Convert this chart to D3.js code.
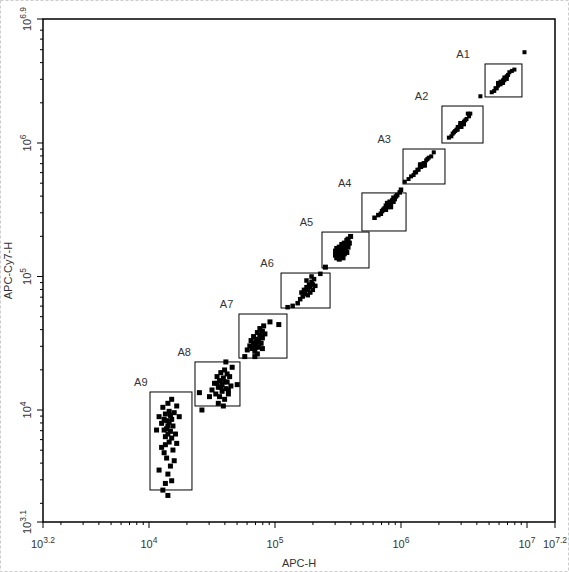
<!DOCTYPE html>
<html><head><meta charset="utf-8">
<script src="https://cdn.jsdelivr.net/npm/d3@7"></script>
<style>body{margin:0;background:#fff}svg{display:block}</style>
</head><body>
<svg id="c" width="569" height="572"></svg>
<script>
const gateNames = ["A1","A2","A3","A4","A5","A6","A7","A8","A9"];
// gates in log10 units: [x0, x1, y0, y1]
const gates = [
 [6.667,6.960,6.345,6.592],[6.325,6.651,6.000,6.277],[6.016,6.349,5.693,5.955],
 [5.690,6.040,5.341,5.626],[5.373,5.746,5.064,5.333],[5.048,5.437,4.764,5.026],
 [4.714,5.095,4.389,4.719],[4.365,4.722,4.030,4.360],[4.008,4.341,3.401,4.135]];
const pts = [
 [[6.72,6.38],[6.74,6.39],[6.75,6.41],[6.76,6.41],[6.77,6.43],[6.78,6.44],[6.79,6.44],[6.79,6.46],[6.80,6.45],[6.81,6.47],[6.82,6.47],[6.82,6.49],[6.83,6.49],[6.84,6.50],[6.85,6.51],[6.86,6.53],[6.88,6.54],[6.90,6.55],[6.77,6.45],[6.81,6.45],[6.84,6.48],[6.63,6.35],[6.98,6.68]],
 [[6.38,6.04],[6.40,6.05],[6.41,6.07],[6.42,6.08],[6.43,6.09],[6.44,6.10],[6.45,6.10],[6.45,6.12],[6.46,6.12],[6.47,6.13],[6.48,6.14],[6.48,6.12],[6.49,6.15],[6.50,6.16],[6.51,6.17],[6.52,6.18],[6.54,6.20],[6.55,6.22],[6.47,6.15],[6.50,6.14],[6.53,6.22]],
 [[6.06,5.73],[6.08,5.75],[6.10,5.76],[6.11,5.78],[6.12,5.78],[6.13,5.80],[6.14,5.80],[6.15,5.82],[6.16,5.82],[6.16,5.84],[6.17,5.83],[6.18,5.85],[6.19,5.85],[6.20,5.87],[6.21,5.88],[6.22,5.89],[6.24,5.90],[6.26,5.93],[6.15,5.84],[6.19,5.83],[6.03,5.71]],
 [[5.79,5.44],[5.82,5.46],[5.84,5.47],[5.85,5.49],[5.86,5.50],[5.87,5.51],[5.88,5.50],[5.88,5.53],[5.89,5.52],[5.90,5.54],[5.91,5.53],[5.91,5.56],[5.92,5.55],[5.93,5.57],[5.94,5.56],[5.94,5.59],[5.95,5.58],[5.96,5.60],[5.97,5.61],[5.99,5.63],[6.00,5.65],[5.89,5.55],[5.92,5.52]],
 [[5.48,5.16],[5.48,5.19],[5.49,5.14],[5.49,5.21],[5.50,5.17],[5.50,5.20],[5.51,5.15],[5.51,5.22],[5.52,5.18],[5.52,5.21],[5.53,5.16],[5.53,5.24],[5.54,5.19],[5.54,5.22],[5.55,5.17],[5.55,5.25],[5.56,5.20],[5.56,5.23],[5.57,5.27],[5.58,5.22],[5.58,5.28],[5.59,5.25],[5.60,5.30],[5.57,5.18],[5.51,5.13],[5.54,5.14],[5.40,5.07]],
 [[5.20,4.83],[5.21,4.88],[5.22,4.85],[5.23,4.90],[5.24,4.87],[5.25,4.92],[5.26,4.86],[5.26,4.90],[5.27,4.94],[5.28,4.88],[5.28,4.92],[5.29,4.96],[5.30,4.90],[5.30,4.94],[5.31,4.98],[5.29,5.00],[5.32,4.93],[5.18,4.80],[5.14,4.78],[5.10,4.77],[5.25,4.97],[5.36,5.02]],
 [[4.80,4.48],[4.81,4.52],[4.82,4.46],[4.83,4.50],[4.83,4.55],[4.84,4.44],[4.85,4.49],[4.85,4.53],[4.86,4.58],[4.87,4.47],[4.87,4.52],[4.88,4.56],[4.88,4.61],[4.89,4.50],[4.90,4.54],[4.90,4.59],[4.91,4.63],[4.92,4.57],[4.86,4.42],[4.84,4.40],[4.78,4.45],[4.96,4.66],[5.03,4.64],[4.76,4.40],[4.90,4.46],[4.84,4.47],[4.86,4.51],[4.89,4.55]],
 [[4.50,4.15],[4.52,4.20],[4.53,4.12],[4.54,4.25],[4.55,4.17],[4.56,4.22],[4.56,4.10],[4.57,4.28],[4.58,4.14],[4.58,4.19],[4.59,4.24],[4.60,4.30],[4.60,4.08],[4.61,4.16],[4.62,4.21],[4.62,4.27],[4.63,4.12],[4.64,4.25],[4.65,4.18],[4.66,4.32],[4.55,4.05],[4.59,4.03],[4.48,4.10],[4.70,4.19],[4.61,4.36],[4.40,4.13],[4.42,4.00],[4.57,4.17],[4.60,4.21],[4.63,4.15],[4.54,4.20]],
 [[4.08,3.95],[4.10,3.90],[4.11,4.02],[4.12,3.85],[4.13,3.97],[4.13,3.80],[4.14,3.92],[4.15,4.05],[4.15,3.88],[4.16,3.76],[4.16,3.99],[4.17,3.84],[4.18,3.93],[4.18,4.08],[4.19,3.70],[4.19,3.88],[4.20,3.98],[4.21,3.82],[4.22,4.03],[4.14,3.64],[4.17,3.58],[4.12,3.68],[4.20,3.62],[4.10,3.72],[4.15,3.52],[4.13,3.45],[4.18,3.47],[4.08,3.55],[4.22,3.75],[4.06,3.85],[4.24,3.95],[4.15,3.36],[4.11,3.40],[4.14,3.86],[4.16,3.91],[4.12,3.93],[4.17,3.96],[4.15,3.82],[4.18,3.79],[4.13,3.74]]
];
const xMajor = [4,5,6,7], yMajor = [4,5,6];
const xTitle = "APC-H", yTitle = "APC-Cy7-H";

const svg = d3.select("#c");
const L=43,R=555,T=19,B=522;
const x = d3.scaleLog().domain([1e4,1e7]).range([149,527]);
const y = d3.scaleLog().domain([1e4,1e6]).range([410,143]);
const P = v => Math.pow(10,v);
const font = "Arial, 'Liberation Sans', sans-serif";

svg.append("rect").attr("x",0.5).attr("y",0.5).attr("width",568).attr("height",571)
  .attr("fill","none").attr("stroke","#ccc").attr("stroke-dasharray","3,2");

const g = svg.append("g").attr("stroke","#000").attr("stroke-width",1);
function addTicks(scale, lo, hi, horiz){
  for(let d=Math.floor(lo); d<=Math.ceil(hi); d++){
    for(let m=1;m<10;m++){
      const lv = d+Math.log10(m);
      if(lv<lo-1e-9||lv>hi+1e-9) continue;
      const p = scale(P(lv)); const len = m===1?6:3;
      if(horiz) g.append("line").attr("x1",p).attr("x2",p).attr("y1",B).attr("y2",B+len);
      else g.append("line").attr("y1",p).attr("y2",p).attr("x1",L).attr("x2",L-len);
    }
  }
}
addTicks(x,3.3,7.1,true); addTicks(y,3.15,6.85,false);
g.append("line").attr("x1",L).attr("x2",L).attr("y1",B).attr("y2",B+6);
g.append("line").attr("x1",R).attr("x2",R).attr("y1",B).attr("y2",B+6);
g.append("line").attr("y1",T).attr("y2",T).attr("x1",L).attr("x2",L-6);
g.append("line").attr("y1",B).attr("y2",B).attr("x1",L).attr("x2",L-6);

function lab(sel, exp){
  sel.append("tspan").text("10");
  sel.append("tspan").attr("dy",-5).attr("font-size",8.5).text(exp);
}
const xl = xMajor.map(e=>({p:x(P(e)),e:String(e)})).concat([{p:L,e:"3.2"},{p:R,e:"7.2"}]);
xl.forEach(d=>{
  const t=svg.append("text").attr("x",d.p).attr("y",548).attr("text-anchor","middle")
    .attr("font-family",font).attr("font-size",11).attr("fill","#333");
  lab(t,d.e);
});
const yl = yMajor.map(e=>({p:y(P(e)),e:String(e)})).concat([{p:B,e:"3.1"},{p:T,e:"6.9"}]);
yl.forEach(d=>{
  const t=svg.append("text").attr("transform",`translate(31,${d.p}) rotate(-90)`).attr("text-anchor","middle")
    .attr("font-family",font).attr("font-size",11).attr("fill","#333");
  lab(t,d.e);
});
svg.append("text").attr("x",(L+R)/2).attr("y",567).attr("text-anchor","middle")
  .attr("font-family",font).attr("font-size",11).attr("fill","#333").text(xTitle);
svg.append("text").attr("transform",`translate(12,${(T+B)/2}) rotate(-90)`).attr("text-anchor","middle")
  .attr("font-family",font).attr("font-size",11).attr("fill","#333").text(yTitle);

const sizes=[4,4,4,4.5,5,4.5,5,5,5];
pts.forEach((arr,i)=>{
  const s = sizes[i];
  svg.append("g").selectAll("rect").data(arr).enter().append("rect")
    .attr("x",d=>x(P(d[0]))-s/2).attr("y",d=>y(P(d[1]))-s/2)
    .attr("width",s).attr("height",s).attr("fill","#000");
});
gates.forEach((gt,i)=>{
  const x0=x(P(gt[0])),x1=x(P(gt[1])),y0=y(P(gt[3])),y1=y(P(gt[2]));
  svg.append("rect").attr("x",x0).attr("y",y0).attr("width",x1-x0).attr("height",y1-y0)
    .attr("fill","none").attr("stroke","#000").attr("stroke-width",1);
  svg.append("text").attr("x",x0-22+i*1.6).attr("y",y0-6).attr("text-anchor","middle")
    .attr("font-family",font).attr("font-size",11).attr("fill","#333").text(gateNames[i]);
});
svg.append("rect").attr("x",L).attr("y",T).attr("width",R-L).attr("height",B-T)
  .attr("fill","none").attr("stroke","#000").attr("stroke-width",1.5);
</script></body></html>
